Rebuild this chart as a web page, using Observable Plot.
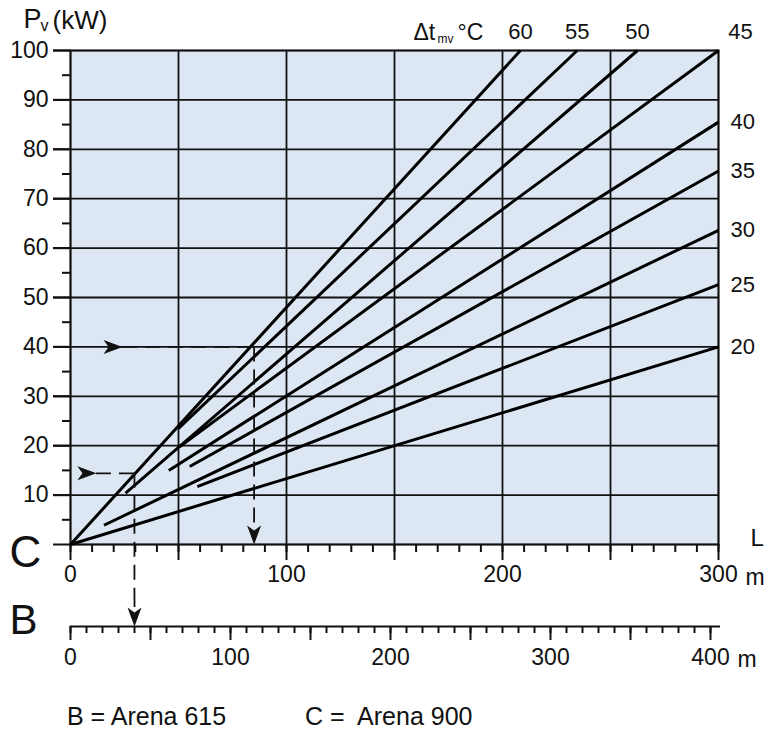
<!DOCTYPE html>
<html>
<head>
<meta charset="utf-8">
<script src="https://cdn.jsdelivr.net/npm/d3@7"></script>
<script src="https://cdn.jsdelivr.net/npm/@observablehq/plot@0.6"></script>
<style>
  body { margin: 0; background: #fff; font-family: "Liberation Sans", Arial, sans-serif; }
  #wrap { position: relative; width: 771px; height: 738px; overflow: hidden; }
  #main { position: absolute; left: 0; top: 0; }
  #bax { position: absolute; left: 0; top: 600px; }
  .cap { position: absolute; top: 701px; font-size: 25px; line-height: 30px; white-space: pre; color: #111; }
</style>
</head>
<body>
<div id="wrap">
  <div id="main"></div>
  <div id="bax"></div>
  <div class="cap" id="capB"></div>
  <div class="cap" id="capC"></div>
</div>
<script>
// ---- data ----
const dtValues   = [60, 55, 50, 45, 40, 35, 30, 25, 20];          // Δt_mv °C
const lenStart   = [0, 50, 25.5, 50.5, 45.5, 55.2, 15.5, 58.7, 0]; // L (m) where each line starts
const powStart   = [0, 23.5, 10.4, 19.8, 15, 15.8, 3.9, 11.7, 0];  // Pv (kW) at start
const lenEnd     = [208.3, 234.6, 262.5, 300, 300, 300, 300, 300, 300];
const powEnd     = [100, 100, 100, 100, 85.5, 75.6, 63.6, 52.6, 40];

const yTicks      = d3.range(0, 101, 10);
const yTickLabels = d3.range(10, 101, 10);
const yMinorTicks = d3.range(5, 100, 10);
const cTickLabels = [0, 100, 200, 300];
const bTickLabels = [0, 100, 200, 300, 400];

// example readings (dashed arrows)
const readPow  = [40, 14.4];     // kW
const readLenC = [85, 29.6];     // m on scale C
const readFrom = [15.3, 3.2];    // m where the arrow starts
const readLenB = 40;             // m on scale B

const captions = ["B = Arena 615", "C =  Arena 900"];

// ---- styles ----
const BG = "#dde7f4";
const INK = "#111";
const FONT = "Liberation Sans, Arial, sans-serif";
const TICK_FONT = 23;

function arrowSymbol(dir) {
  // tail at origin for "right", tip at origin for "down"
  return {
    draw(ctx) {
      if (dir === "right") {
        ctx.moveTo(19, 0); ctx.lineTo(0, -7); ctx.lineTo(5, 0); ctx.lineTo(0, 7); ctx.closePath();
      } else {
        ctx.moveTo(0, 0); ctx.lineTo(-7, -19); ctx.lineTo(0, -14); ctx.lineTo(7, -19); ctx.closePath();
      }
    }
  };
}

const idx = d3.range(dtValues.length);
const topIdx = idx.filter(i => powEnd[i] >= 100 && lenEnd[i] < 300);
const cornerIdx = idx.filter(i => powEnd[i] >= 100 && lenEnd[i] >= 300);
const rightIdx = idx.filter(i => powEnd[i] < 100);

const main = Plot.plot({
  width: 771,
  height: 600,
  marginLeft: 70,
  marginRight: 53,
  marginTop: 50,
  marginBottom: 56,
  style: { fontFamily: FONT, color: INK, background: "transparent", overflow: "visible" },
  x: { domain: [0, 300] },
  y: { domain: [0, 100] },
  marks: [
    Plot.frame({ fill: BG, stroke: null }),
    Plot.ruleX(d3.range(50, 300, 50), { stroke: INK, strokeWidth: 1.8 }),
    Plot.ruleY(d3.range(10, 100, 10), { stroke: INK, strokeWidth: 1.8 }),
    Plot.frame({ stroke: INK, strokeWidth: 2.2 }),
    // y axis
    Plot.axisY(yTicks, { tickSize: 17, tickFormat: () => "", strokeWidth: 2, label: null }),
    Plot.axisY(yTickLabels, { tickSize: 17, tickPadding: 5, fontSize: TICK_FONT, strokeWidth: 2, label: null }),
    Plot.axisY(yMinorTicks, { tickSize: 8, tickFormat: () => "", strokeWidth: 2, label: null }),
    // x axis (scale C)
    Plot.axisX(d3.range(0, 301, 10), { tickSize: 8, tickFormat: () => "", strokeWidth: 2, label: null }),
    Plot.axisX(d3.range(0, 301, 50), { tickSize: 16, tickFormat: () => "", strokeWidth: 2, label: null }),
    Plot.axisX(cTickLabels, { tickSize: 0, tickPadding: 21, fontSize: TICK_FONT, label: null }),
    Plot.text(["m"], { frameAnchor: "bottom-right", dx: 27, dy: 33, textAnchor: "start", lineAnchor: "middle", fontSize: TICK_FONT, text: d => d }),
    // Δt lines
    Plot.link(idx, {
      x1: i => lenStart[i], y1: i => powStart[i],
      x2: i => lenEnd[i], y2: i => powEnd[i],
      stroke: "#000", strokeWidth: 3
    }),
    // line labels
    Plot.text(topIdx, { x: i => lenEnd[i], y: i => powEnd[i], text: i => String(dtValues[i]), dy: -19, fontSize: 22, lineAnchor: "middle" }),
    Plot.text(cornerIdx, { x: i => lenEnd[i], y: i => powEnd[i], text: i => String(dtValues[i]), dx: 22, dy: -19, fontSize: 22, lineAnchor: "middle" }),
    Plot.text(rightIdx, { x: i => lenEnd[i], y: i => powEnd[i], text: i => String(dtValues[i]), dx: 12, textAnchor: "start", fontSize: 22, lineAnchor: "middle" }),
    // example readings
    Plot.ruleY([0, 1], { y: i => readPow[i], x1: i => readFrom[i], x2: i => readLenC[i], insetLeft: 19, stroke: INK, strokeWidth: 1.8, strokeDasharray: "15,8" }),
    Plot.dot([0, 1], { x: i => readFrom[i], y: i => readPow[i], symbol: arrowSymbol("right"), fill: INK, stroke: "none", r: 8 }),
    Plot.ruleX([0], { x: i => readLenC[i], y1: i => readPow[i], y2: 0, insetBottom: 19, stroke: INK, strokeWidth: 1.8, strokeDasharray: "15,8" }),
    Plot.dot([0], { x: i => readLenC[i], y: 0, symbol: arrowSymbol("down"), fill: INK, stroke: "none", r: 8 }),
    Plot.ruleX([1], { x: i => readLenC[i], y1: i => readPow[i], y2: 0, insetBottom: -56, stroke: INK, strokeWidth: 1.8, strokeDasharray: "15,8" }),
    // headings / letters
    Plot.text(["P"], { frameAnchor: "top-left", dx: -47, dy: -31, textAnchor: "start", lineAnchor: "middle", fontSize: 27, text: d => d }),
    Plot.text(["v"], { frameAnchor: "top-left", dx: -30, dy: -25, textAnchor: "start", lineAnchor: "middle", fontSize: 16, text: d => d }),
    Plot.text(["(kW)"], { frameAnchor: "top-left", dx: -18, dy: -30, textAnchor: "start", lineAnchor: "middle", fontSize: 26, text: d => d }),
    Plot.text(["Δt"], { frameAnchor: "top-right", dx: -305, dy: -18, textAnchor: "start", lineAnchor: "middle", fontSize: 23, text: d => d }),
    Plot.text(["mv"], { frameAnchor: "top-right", dx: -281, dy: -11, textAnchor: "start", lineAnchor: "middle", fontSize: 12, text: d => d }),
    Plot.text(["°C"], { frameAnchor: "top-right", dx: -261, dy: -18, textAnchor: "start", lineAnchor: "middle", fontSize: 23, text: d => d }),
    Plot.text(["C"], { frameAnchor: "bottom-left", dx: -61, dy: 8, textAnchor: "start", lineAnchor: "middle", fontSize: 44, text: d => d }),
    Plot.text(["L"], { frameAnchor: "bottom-right", dx: 32, dy: -6, textAnchor: "start", lineAnchor: "middle", fontSize: 24, text: d => d })
  ]
});
document.getElementById("main").appendChild(main);

// ---- scale B ----
const bax = Plot.plot({
  width: 771,
  height: 80,
  marginLeft: 70,
  marginRight: 51,
  marginTop: 0,
  marginBottom: 54,
  style: { fontFamily: FONT, color: INK, background: "transparent", overflow: "visible" },
  x: { domain: [0, 400], range: [70, 710] },
  y: { domain: [0, 1], axis: null },
  marks: [
    Plot.ruleY([0], { stroke: INK, strokeWidth: 2 }),
    Plot.axisX(d3.range(0, 401, 10), { tickSize: 7, tickFormat: () => "", strokeWidth: 2, label: null }),
    Plot.axisX(d3.range(0, 401, 50), { tickSize: 14, tickFormat: () => "", strokeWidth: 2, label: null }),
    Plot.axisX(bTickLabels, { tickSize: 0, tickPadding: 22, fontSize: TICK_FONT, label: null }),
    Plot.text(["m"], { x: () => 400, frameAnchor: "bottom", dx: 27, dy: 33, textAnchor: "start", lineAnchor: "middle", fontSize: TICK_FONT, text: d => d }),
    Plot.ruleX([readLenB], { insetBottom: 19, stroke: INK, strokeWidth: 1.8, strokeDasharray: "15,8" }),
    Plot.dot([readLenB], { x: d => d, y: 0, symbol: arrowSymbol("down"), fill: INK, stroke: "none", r: 8 }),
    Plot.text(["B"], { frameAnchor: "bottom-left", dx: -61, dy: -6, textAnchor: "start", lineAnchor: "middle", fontSize: 42, text: d => d })
  ]
});
document.getElementById("bax").appendChild(bax);

const capB = document.getElementById("capB");
capB.textContent = captions[0];
capB.style.left = "67px";
const capC = document.getElementById("capC");
capC.textContent = captions[1];
capC.style.left = "305px";
</script>
</body>
</html>
